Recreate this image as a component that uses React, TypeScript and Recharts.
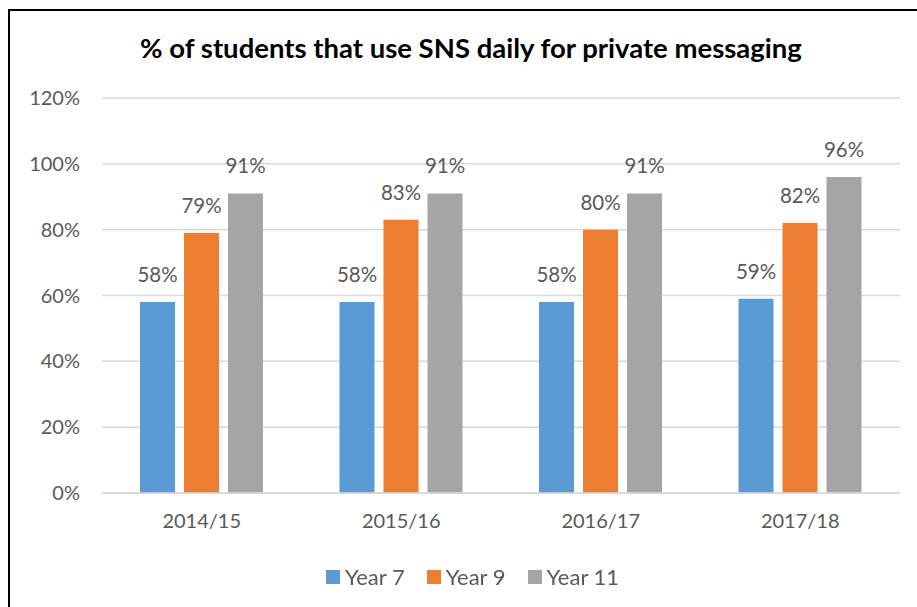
import { BarChart, Bar, XAxis, YAxis, CartesianGrid, Legend, LabelList } from "recharts";

const years = ["2014/15", "2015/16", "2016/17", "2017/18"];
const year7 = [58, 58, 58, 59];
const year9 = [79, 83, 80, 82];
const year11 = [91, 91, 91, 96];
const yTicks = [0, 20, 40, 60, 80, 100, 120];

const seriesKeys = ["y7", "y9", "y11"];
const seriesNames = ["Year 7", "Year 9", "Year 11"];
const seriesColors = ["#5B9BD5", "#ED7D31", "#A5A5A5"];

const data = years.map((year, i) => ({ year, y7: year7[i], y9: year9[i], y11: year11[i] }));

const FONT = "Lato, 'Open Sans', sans-serif";
const TEXT = "#595959";
const GRID = "#d9d9d9";

const pct = (v: any) => `${v}%`;

function LegendBox(props: any) {
  // keep the series order (recharts may hand the payload back in another order)
  const items = [...(props.payload || [])].sort(
    (a: any, b: any) => seriesNames.indexOf(a.value) - seriesNames.indexOf(b.value)
  );
  return (
    <div style={{ display: "flex", justifyContent: "center", alignItems: "center", fontFamily: FONT, fontSize: 22, color: TEXT }}>
      {items.map((it: any, i: number) => (
        <div key={i} style={{ display: "flex", alignItems: "center", marginRight: i < items.length - 1 ? 22 : 0 }}>
          <span style={{ display: "inline-block", width: 14, height: 14, background: it.color, marginRight: 5 }} />
          <span>{it.value}</span>
        </div>
      ))}
    </div>
  );
}

export default function App() {
  return (
    <div
      style={{
        position: "fixed",
        left: 8,
        top: 9,
        width: 909,
        height: 598,
        boxSizing: "border-box",
        borderLeft: "2px solid #000",
        borderTop: "2px solid #000",
        background: "#fff",
        fontFamily: FONT,
      }}
    >
      <div
        style={{
          position: "absolute",
          left: 0,
          top: 21,
          width: 922,
          textAlign: "center",
          fontSize: 27.5,
          lineHeight: "32px",
          fontWeight: 700,
          color: "#000",
        }}
      >
        % of students that use SNS daily for private messaging
      </div>
      <BarChart
        width={907}
        height={596}
        data={data}
        margin={{ top: 87, right: 17, left: 0, bottom: 74 }}
        barSize={35}
        barGap={9}
      >
        <CartesianGrid vertical={false} stroke={GRID} strokeWidth={1.5} />
        <XAxis
          dataKey="year"
          axisLine={{ stroke: GRID, strokeWidth: 1.5 }}
          tickLine={false}
          tickSize={0}
          tickMargin={21}
          height={40}
          tick={{ fill: TEXT, fontSize: 20, fontFamily: FONT }}
        />
        <YAxis
          domain={[0, 120]}
          ticks={yTicks}
          tickFormatter={pct}
          axisLine={false}
          tickLine={false}
          tickSize={0}
          tickMargin={22}
          width={92}
          tick={{ fill: TEXT, fontSize: 20, fontFamily: FONT }}
        />
        <Legend
          layout="horizontal"
          verticalAlign="middle"
          align="center"
          content={<LegendBox />}
          wrapperStyle={{ top: 552, left: 9, width: 907, height: 28 }}
        />
        {seriesKeys.map((key, i) => (
          <Bar key={key} dataKey={key} name={seriesNames[i]} fill={seriesColors[i]} isAnimationActive={false}>
            <LabelList
              dataKey={key}
              position="top"
              offset={20}
              formatter={pct}
              fill={TEXT}
              fontSize={20.5}
              fontFamily={FONT}
            />
          </Bar>
        ))}
      </BarChart>
    </div>
  );
}
